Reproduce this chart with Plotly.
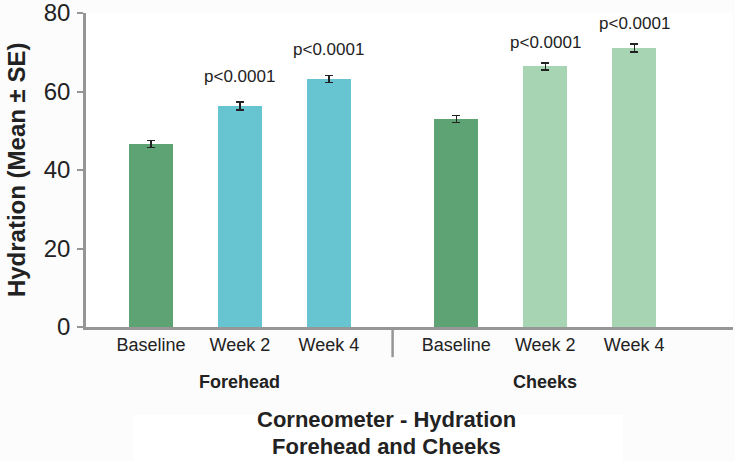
import plotly.graph_objects as go

# ---- data ----
tick_labels = ["Baseline", "Week 2", "Week 4", "Baseline", "Week 2", "Week 4"]
groups = ["Forehead", "Cheeks"]
means = [46.6, 56.3, 63.2, 53.0, 66.4, 71.1]
se = [0.9, 1.05, 0.9, 0.9, 0.9, 1.05]
pvals = ["", "p<0.0001", "p<0.0001", "", "p<0.0001", "p<0.0001"]
colors = ["#5ea373", "#67c4d1", "#67c4d1", "#5ea373", "#a7d4b3", "#a7d4b3"]
y_ticks = [0, 20, 40, 60, 80]

# category positions (extra gap between the two groups)
group_gap = 1.43
x_pos = [0, 1, 2, 2 + group_gap, 3 + group_gap, 4 + group_gap]
x_range = [-0.73, 6.54]

FONT = "Liberation Sans, Arial, sans-serif"
TXT = "#222222"
AX = "#969696"

fig = go.Figure()
fig.add_trace(go.Bar(
    x=x_pos, y=means, width=0.49,
    marker=dict(color=colors, line=dict(width=0)),
    error_y=dict(type="data", array=se, visible=True, color="#222222", thickness=1.4, width=4),
    showlegend=False,
))

# p-value labels
for xp, m, s, p, g in zip(x_pos, means, se, pvals, [0, 0, 0, 1, 1, 1]):
    if p:
        fig.add_annotation(x=xp, y=m + s, text=p, showarrow=False, yanchor="bottom",
                           yshift=14 if g == 0 else 9,
                           font=dict(family=FONT, size=17, color=TXT))

# group labels under middle bar of each group
for gi, name in enumerate(groups):
    fig.add_annotation(x=x_pos[gi * 3 + 1], y=-0.1755, yref="paper", text="<b>%s</b>" % name,
                       showarrow=False, yanchor="middle",
                       font=dict(family=FONT, size=18, color=TXT))

# separator between groups
sep = (x_pos[2] + x_pos[3]) / 2
sep_paper = (sep - x_range[0]) / (x_range[1] - x_range[0])
fig.add_shape(type="line", xref="paper", yref="paper", x0=sep_paper, x1=sep_paper,
              y0=0, y1=-0.096, line=dict(color=AX, width=2.5))

# white box behind title
fig.add_shape(type="rect", xref="paper", yref="paper", x0=0.074, x1=0.83, y0=-0.43, y1=-0.28,
              fillcolor="#ffffff", line=dict(width=0), layer="below")

fig.add_annotation(x=0.464, y=-0.2935, xref="paper", yref="paper", showarrow=False,
                   text="<b>Corneometer - Hydration</b>", yanchor="middle",
                   font=dict(family=FONT, size=22, color=TXT))
fig.add_annotation(x=0.464, y=-0.3797, xref="paper", yref="paper", showarrow=False,
                   text="<b>Forehead and Cheeks</b>", yanchor="middle",
                   font=dict(family=FONT, size=22, color=TXT))

# y title
fig.add_annotation(x=-0.108, y=0.5, xref="paper", yref="paper", showarrow=False,
                   text="<b>Hydration (Mean ± SE)</b>", textangle=-90,
                   xanchor="center", yanchor="middle",
                   font=dict(family=FONT, size=24, color=TXT))

fig.update_layout(
    width=735, height=461,
    margin=dict(l=86, r=2, t=13, b=134, autoexpand=False),
    paper_bgcolor="#fcfcfc", plot_bgcolor="#ffffff",
    xaxis=dict(range=x_range, tickvals=x_pos, ticktext=tick_labels, showgrid=False,
               zeroline=False, showline=True, linecolor=AX, linewidth=2.5, ticks="",
               automargin=False,
               tickfont=dict(family=FONT, size=18, color=TXT)),
    yaxis=dict(range=[0, 80], tickvals=y_ticks, showgrid=False, zeroline=False,
               showline=True, linecolor=AX, linewidth=2.5, ticks="outside", ticklen=6,
               tickcolor=AX, tickwidth=1.5, ticklabelstandoff=2, automargin=False,
               ticklabeloverflow="allow",
               tickfont=dict(family=FONT, size=24, color=TXT)),
    bargap=0,
)

fig.write_html("out.html", config={"displayModeBar": False},
               post_script="document.body.style.margin='0';document.body.style.padding='0';")
